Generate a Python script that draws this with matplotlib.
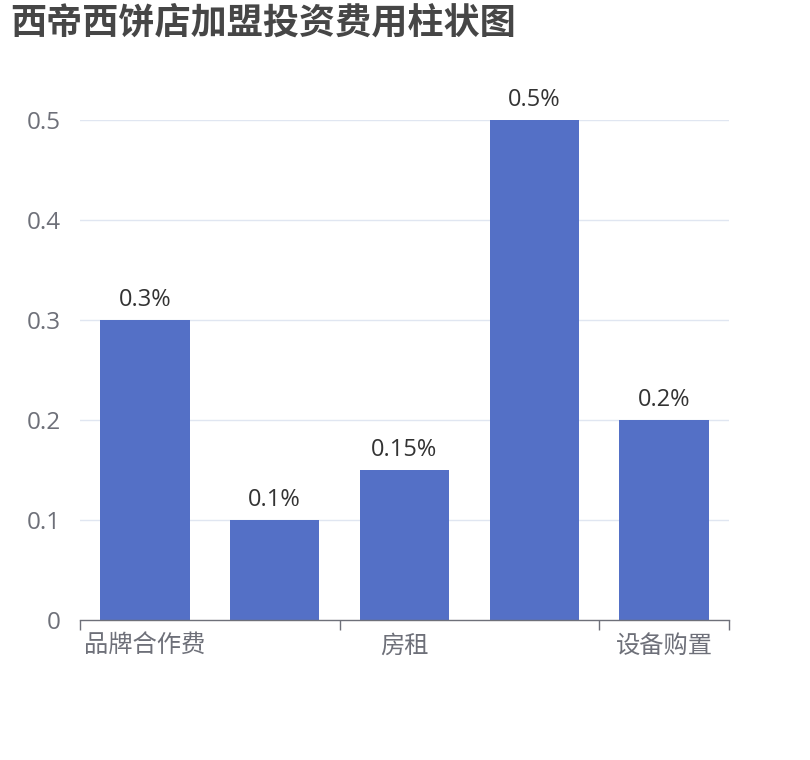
import matplotlib
matplotlib.use('Agg')
import matplotlib.pyplot as plt

plt.rcParams['font.family'] = ['Open Sans', 'Noto Sans CJK SC', 'DejaVu Sans']

categories = ['品牌合作费', '装修费用', '房租', '人员工资', '设备购置']
values = [0.3, 0.1, 0.15, 0.5, 0.2]
value_labels = ['0.3%', '0.1%', '0.15%', '0.5%', '0.2%']
y_ticks = [0, 0.1, 0.2, 0.3, 0.4, 0.5]
y_tick_labels = ['0', '0.1', '0.2', '0.3', '0.4', '0.5']

fig = plt.figure(figsize=(8.1, 7.6), dpi=100)
ax = fig.add_axes([80 / 810, 140 / 760, 649 / 810, 500 / 760])

x = list(range(len(categories)))
bars = ax.bar(x, values, width=0.69, color='#5470C6', zorder=3)

for b, lab in zip(bars, value_labels):
    ax.annotate(lab, (b.get_x() + b.get_width() / 2, b.get_height()),
                xytext=(0, 6), textcoords='offset points',
                ha='center', va='bottom', fontsize=17, color='#333333')

ax.set_xlim(-0.5, len(categories) - 0.5)
ax.set_ylim(0, 0.5)

# y axis
ax.set_yticks(y_ticks)
ax.set_yticklabels(y_tick_labels)
ax.tick_params(axis='y', length=0, pad=14, labelsize=17.5, labelcolor='#6E7079')
for yt in y_ticks[1:]:
    ax.axhline(yt, color='#E0E6F1', lw=1, zorder=1)

# x axis: ticks at boundaries, labels every other category
ax.set_xticks([-0.5, 1.5, 3.5, 4.5])
ax.set_xticklabels([])
ax.tick_params(axis='x', which='major', length=7, width=1, color='#6E7079')
ax.set_xticks([0, 2, 4], minor=True)
ax.set_xticklabels([categories[i] for i in (0, 2, 4)], minor=True)
ax.tick_params(axis='x', which='minor', length=0, pad=11, labelsize=17.5, labelcolor='#6E7079')

for s in ['top', 'right', 'left']:
    ax.spines[s].set_visible(False)
ax.spines['bottom'].set_color('#6E7079')
ax.spines['bottom'].set_linewidth(1)
ax.spines['bottom'].set_zorder(4)

fig.text(10 / 810, 1 - 7 / 760, '西帝西饼店加盟投资费用柱状图', ha='left', va='top',
         fontsize=26, fontweight='bold', color='#464646')

fig.savefig('out.png', dpi=100)
